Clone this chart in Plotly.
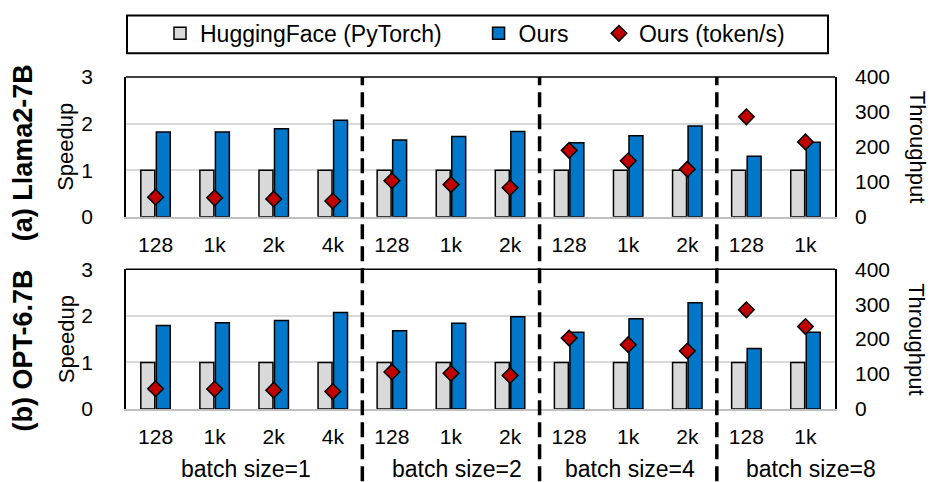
import plotly.graph_objects as go

# ---------------- data ----------------
seq_labels = ["128", "1k", "2k", "4k", "128", "1k", "2k", "128", "1k", "2k", "128", "1k"]
batch_labels = ["batch size=1", "batch size=2", "batch size=4", "batch size=8"]
group_sizes = [4, 3, 3, 2]

hf_llama = [1.0, 1.0, 1.0, 1.0, 1.0, 1.0, 1.0, 1.0, 1.0, 1.0, 1.0, 1.0]
ours_llama = [1.82, 1.82, 1.89, 2.07, 1.65, 1.72, 1.83, 1.59, 1.74, 1.95, 1.30, 1.60]
tok_llama = [56, 54, 51, 45, 103, 92, 83, 190, 160, 136, 286, 214]

hf_opt = [1.0, 1.0, 1.0, 1.0, 1.0, 1.0, 1.0, 1.0, 1.0, 1.0, 1.0, 1.0]
ours_opt = [1.79, 1.85, 1.90, 2.07, 1.68, 1.84, 1.98, 1.65, 1.94, 2.28, 1.30, 1.65]
tok_opt = [58, 57, 54, 50, 106, 102, 96, 203, 184, 166, 284, 236]

series_names = ["HuggingFace (PyTorch)", "Ours", "Ours (token/s)"]

# ---------------- style ----------------
FONT = "Arial, Liberation Sans, sans-serif"
GRAY = "#d9d9d9"
BLUE = "#0077c8"
RED = "#c00000"
NB = "\u00a0"
legend_pad = [5, 4, 0]  # trailing spacing (legend item spacing)
batch_label_shift = [2, 6, 2, 35]  # px nudges of group labels

idx = list(range(len(seq_labels)))

fig = go.Figure()

panels = [
    ("x", "y", "y2", hf_llama, ours_llama, tok_llama, True),
    ("x2", "y3", "y4", hf_opt, ours_opt, tok_opt, False),
]
lnames = [n + NB * p for n, p in zip(series_names, legend_pad)]
for xa, ya, ya2, hf, ours, tok, show in panels:
    fig.add_trace(go.Bar(x=idx, y=hf, name=lnames[0], marker=dict(color=GRAY, line=dict(color="black", width=1.5)),
                         xaxis=xa, yaxis=ya, showlegend=show, legendrank=1))
    fig.add_trace(go.Bar(x=idx, y=ours, name=lnames[1], marker=dict(color=BLUE, line=dict(color="black", width=1.5)),
                         xaxis=xa, yaxis=ya, showlegend=show, legendrank=2))
    fig.add_trace(go.Scatter(x=idx, y=tok, name=lnames[2], mode="markers",
                             marker=dict(symbol="diamond", size=12, color=RED, line=dict(color="black", width=1.5)),
                             xaxis=xa, yaxis=ya2, showlegend=show, legendrank=3))

W, H = 930, 482
ml, mr, mt, mb = 126, 95, 74, 73
pw, ph = W - ml - mr, H - mt - mb


def py(ypix):
    return (H - mb - ypix) / ph


def px(xpix):
    return (xpix - ml) / pw


top_dom = [py(215), 1.0]
bot_dom = [0.0, py(268)]

tickfont = dict(family=FONT, size=21, color="black")
xcommon = dict(range=[-0.5, len(idx) - 0.5], tickmode="array", tickvals=idx, ticktext=seq_labels,
               showgrid=False, zeroline=False, showline=True, linecolor="#bfbfbf", linewidth=1.5,
               ticks="", tickfont=tickfont, ticklabelstandoff=8, fixedrange=True)
ycommon = dict(range=[0, 3], tickmode="linear", tick0=0, dtick=1, showgrid=True, gridcolor=GRAY, gridwidth=1.5,
               zeroline=False, showline=True, linecolor="black", linewidth=1.5, mirror=True,
               ticks="", tickfont=tickfont, ticklabelstandoff=27, fixedrange=True)
y2common = dict(range=[0, 400], tickmode="linear", tick0=0, dtick=100, showgrid=False, zeroline=False,
                showline=False, side="right", ticks="", tickfont=tickfont, ticklabelstandoff=19, fixedrange=True)

fig.update_layout(
    width=W, height=H, margin=dict(l=ml, r=mr, t=mt, b=mb, pad=0),
    paper_bgcolor="white", plot_bgcolor="white",
    font=dict(family=FONT, color="black"),
    barmode="group", bargap=0.475, bargroupgap=0.1,
    xaxis=dict(domain=[0, 1], anchor="y", **xcommon),
    xaxis2=dict(domain=[0, 1], anchor="y3", **xcommon),
    yaxis=dict(domain=top_dom, anchor="x", **ycommon),
    yaxis2=dict(overlaying="y", anchor="x", **y2common),
    yaxis3=dict(domain=bot_dom, anchor="x2", **ycommon),
    yaxis4=dict(overlaying="y3", anchor="x2", **y2common),
    legend=dict(orientation="h", x=px(160), xanchor="left", y=py(30), yanchor="middle",
                font=dict(family=FONT, size=23, color="black"), bgcolor="rgba(0,0,0,0)", borderwidth=0,
                traceorder="normal"),
)

shapes = []
# legend frame
shapes.append(dict(type="rect", xref="paper", yref="paper", x0=px(127), x1=px(828), y0=py(50), y1=py(12),
                   line=dict(color="black", width=2), fillcolor="rgba(0,0,0,0)"))
# top frame lines
for yref in ["y domain", "y3 domain"]:
    shapes.append(dict(type="line", xref="x domain", yref=yref, x0=0, x1=1, y0=1, y1=1,
                       line=dict(color="black", width=1.5)))
# group separators and batch labels
annotations = []
start = 0
for i, (g, lab) in enumerate(zip(group_sizes, batch_labels)):
    center = start + (g - 1) / 2
    annotations.append(dict(text=lab, x=center, xref="x", y=py(470), yref="paper", showarrow=False,
                            xanchor="center", yanchor="middle", xshift=batch_label_shift[i],
                            font=dict(family=FONT, size=23, color="black")))
    end = start + g
    if i < len(group_sizes) - 1:
        shapes.append(dict(type="line", xref="x", yref="paper", x0=end - 0.5, x1=end - 0.5, y0=py(482), y1=1.0,
                           line=dict(color="black", width=3.5, dash="15px,7px"), layer="above"))
    start = end

for yd, lab in [(top_dom, "(a) Llama2-7B"), (bot_dom, "(b) OPT-6.7B")]:
    cy = (yd[0] + yd[1]) / 2
    annotations.append(dict(text="Speedup", x=px(66), xref="paper", y=cy, yref="paper", textangle=-90,
                            showarrow=False, xanchor="center", yanchor="middle",
                            font=dict(family=FONT, size=22, color="black")))
    annotations.append(dict(text="Throughput", x=px(917), xref="paper", y=cy, yref="paper", textangle=90,
                            showarrow=False, xanchor="center", yanchor="middle",
                            font=dict(family=FONT, size=22, color="black")))

annotations.append(dict(text="<b>(a) Llama2-7B</b>", x=px(23), xref="paper", y=py(151), yref="paper", textangle=-90,
                        showarrow=False, xanchor="center", yanchor="middle",
                        font=dict(family=FONT, size=27, color="black")))
annotations.append(dict(text="<b>(b) OPT-6.7B</b>", x=px(23), xref="paper", y=py(350), yref="paper", textangle=-90,
                        showarrow=False, xanchor="center", yanchor="middle",
                        font=dict(family=FONT, size=27, color="black")))

fig.update_layout(shapes=shapes, annotations=annotations)
fig.write_html("out.html", config={"displayModeBar": False},
               post_script="document.body.style.margin='0';document.body.style.overflow='hidden';")
